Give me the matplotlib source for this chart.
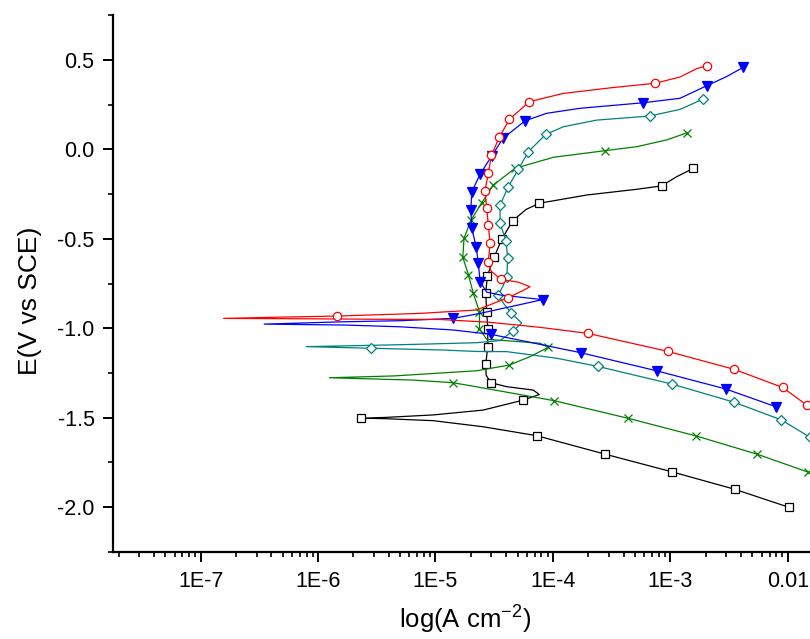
import matplotlib
matplotlib.use("Agg")
import matplotlib.pyplot as plt
from matplotlib.ticker import FixedLocator, FixedFormatter, LogLocator, MultipleLocator, NullFormatter

plt.rcParams['font.family'] = ['Liberation Sans', 'DejaVu Sans']
plt.rcParams['mathtext.fontset'] = 'custom'
plt.rcParams['mathtext.rm'] = 'Liberation Sans'
plt.rcParams['mathtext.it'] = 'Liberation Sans:italic'
plt.rcParams['axes.unicode_minus'] = False

# Potentiodynamic polarization curves: |i| (A cm^-2) versus E (V vs SCE)
# Each sweep runs from the cathodic end, through Ecorr (the dip), to the anodic end.

red_i = [1.46e-2, 9.04e-3, 3.50e-3, 9.48e-4, 1.99e-4, 7.76e-5, 2.92e-5, 1.09e-5, 3.37e-6,
         7.03e-7, 1.57e-7, 4.76e-7, 1.45e-6, 7.40e-6, 2.24e-5, 4.17e-5, 5.46e-5, 6.38e-5,
         5.05e-5, 3.61e-5, 2.97e-5, 2.82e-5, 2.92e-5, 2.82e-5, 2.73e-5, 2.64e-5, 2.82e-5,
         3.00e-5, 3.50e-5, 4.26e-5, 6.30e-5, 1.22e-4, 3.24e-4, 7.40e-4, 1.21e-3, 1.68e-3,
         2.04e-3]
red_E = [-1.431, -1.331, -1.230, -1.129, -1.029, -0.995, -0.967, -0.951, -0.950,
         -0.947, -0.945, -0.938, -0.932, -0.917, -0.898, -0.829, -0.792, -0.768,
         -0.742, -0.727, -0.680, -0.628, -0.525, -0.423, -0.329, -0.231, -0.134,
         -0.031, 0.068, 0.168, 0.267, 0.313, 0.346, 0.370, 0.405, 0.452,
         0.468]
red_marks = [0, 1, 2, 3, 4, 12, 15, 19, 21, 22, 23, 24, 25, 26, 27, 28, 29, 30, 33, 36]

blue_i = [7.93e-3, 2.97e-3, 7.64e-4, 1.73e-4, 2.96e-5, 2.24e-5, 1.42e-5, 5.00e-6, 1.64e-6,
          3.48e-7, 1.64e-6, 5.00e-6, 1.42e-5, 2.40e-5, 8.18e-5, 3.55e-5, 2.73e-5, 2.40e-5,
          2.32e-5, 2.22e-5, 2.04e-5, 2.00e-5, 2.04e-5, 2.40e-5, 3.01e-5, 3.76e-5, 5.79e-5,
          8.85e-5, 1.70e-4, 5.87e-4, 1.21e-3, 2.04e-3, 3.01e-3, 4.18e-3]
blue_E = [-1.439, -1.340, -1.238, -1.137, -1.034, -1.025, -1.010, -0.992, -0.982,
          -0.977, -0.964, -0.958, -0.945, -0.917, -0.840, -0.814, -0.798, -0.740,
          -0.637, -0.544, -0.441, -0.339, -0.237, -0.138, -0.037, 0.062, 0.160,
          0.202, 0.230, 0.261, 0.286, 0.356, 0.407, 0.459]
blue_marks = [0, 1, 2, 3, 4, 12, 14, 17, 18, 19, 20, 21, 22, 23, 24, 25, 26, 29, 31, 33]

teal_i = [1.55e-2, 8.85e-3, 3.50e-3, 1.03e-3, 2.43e-4, 1.08e-4, 4.05e-5, 2.24e-5, 1.17e-5,
          2.83e-6, 7.93e-7, 2.28e-6, 6.93e-6, 2.24e-5, 3.55e-5, 4.60e-5, 5.42e-5, 4.40e-5,
          3.84e-5, 3.43e-5, 3.76e-5, 4.05e-5, 4.12e-5, 3.99e-5, 3.55e-5, 3.55e-5, 4.17e-5,
          5.08e-5, 6.18e-5, 8.69e-5, 1.23e-4, 2.36e-4, 6.70e-4, 1.21e-3, 1.91e-3]
teal_E = [-1.610, -1.513, -1.414, -1.312, -1.214, -1.168, -1.131, -1.130, -1.122,
          -1.112, -1.103, -1.097, -1.090, -1.081, -1.069, -1.014, -0.971, -0.913,
          -0.865, -0.814, -0.764, -0.712, -0.609, -0.511, -0.413, -0.311, -0.209,
          -0.111, -0.013, 0.084, 0.127, 0.164, 0.187, 0.224, 0.282]
teal_marks = [0, 1, 2, 3, 4, 9, 15, 17, 19, 21, 22, 23, 24, 25, 26, 27, 28, 29, 32, 34]

green_i = [1.48e-2, 5.46e-3, 1.67e-3, 4.39e-4, 1.02e-4, 3.55e-5, 1.42e-5, 6.44e-6, 1.25e-6,
           4.39e-6, 2.24e-5, 4.26e-5, 6.38e-5, 9.14e-5, 7.76e-5, 4.05e-5, 2.73e-5, 2.37e-5,
           2.37e-5, 2.10e-5, 1.91e-5, 1.71e-5, 1.75e-5, 2.01e-5, 2.48e-5, 3.11e-5, 4.75e-5,
           1.01e-4, 2.77e-4, 5.16e-4, 9.29e-4, 1.39e-3]
green_E = [-1.804, -1.704, -1.603, -1.504, -1.405, -1.351, -1.305, -1.290, -1.277,
           -1.267, -1.238, -1.206, -1.159, -1.107, -1.084, -1.070, -1.062, -1.004,
           -0.908, -0.805, -0.702, -0.603, -0.497, -0.395, -0.298, -0.199, -0.106,
           -0.044, -0.007, 0.015, 0.053, 0.093]
green_marks = [0, 1, 2, 3, 4, 6, 11, 13, 17, 18, 19, 20, 21, 22, 23, 24, 25, 26, 28, 31]

black_i = [1.03e-2, 3.55e-3, 1.03e-3, 2.77e-4, 7.28e-5, 2.54e-5, 9.55e-6, 3.72e-6, 2.33e-6,
           3.72e-6, 9.55e-6, 2.54e-5, 5.60e-5, 7.66e-5, 6.81e-5, 4.05e-5, 2.96e-5, 2.70e-5,
           2.68e-5, 2.79e-5, 2.79e-5, 2.73e-5, 2.68e-5, 2.77e-5, 3.16e-5, 3.66e-5, 4.55e-5,
           5.90e-5, 7.66e-5, 1.94e-4, 5.16e-4, 8.43e-4, 1.13e-3, 1.57e-3]
black_E = [-2.002, -1.901, -1.803, -1.704, -1.601, -1.551, -1.517, -1.506, -1.503,
           -1.499, -1.485, -1.458, -1.402, -1.371, -1.346, -1.327, -1.305, -1.262,
           -1.200, -1.103, -1.004, -0.908, -0.805, -0.706, -0.603, -0.503, -0.399,
           -0.336, -0.301, -0.255, -0.223, -0.204, -0.153, -0.106]
black_marks = [0, 1, 2, 3, 4, 8, 12, 16, 18, 19, 20, 21, 22, 23, 24, 25, 26, 28, 31, 33]

xtick_values = [1e-7, 1e-6, 1e-5, 1e-4, 1e-3, 1e-2]
xtick_labels = ['1E-7', '1E-6', '1E-5', '1E-4', '1E-3', '0.01']
ytick_values = [-2.0, -1.5, -1.0, -0.5, 0.0, 0.5]

series = [
    (black_i, black_E, black_marks, '#000000', 's', 5.5, 'white'),
    (green_i, green_E, green_marks, '#008000', 'x', 6.0, 'none'),
    (teal_i, teal_E, teal_marks, '#008080', 'D', 5.0, 'white'),
    (blue_i, blue_E, blue_marks, '#0000FF', 'v', 7.0, '#0000FF'),
    (red_i, red_E, red_marks, '#FF0000', 'o', 6.0, 'white'),
]

fig = plt.figure(figsize=(8.1, 6.39), dpi=100)
ax = fig.add_axes([0.139, 0.1366, 0.861, 0.8394])

for cur, pot, marks, col, mk, ms, fc in series:
    ax.plot(cur, pot, color=col, lw=0.9, marker=mk, markevery=marks, ms=ms,
            mfc=fc, mec=col, mew=0.9)

ax.set_xscale('log')
ax.set_xlim(10 ** -7.75, 10 ** -1.81)
ax.set_ylim(-2.25, 0.75)

ax.xaxis.set_major_locator(FixedLocator(xtick_values))
ax.xaxis.set_major_formatter(FixedFormatter(xtick_labels))
ax.xaxis.set_minor_locator(LogLocator(base=10, subs=range(2, 10), numticks=20))
ax.xaxis.set_minor_formatter(NullFormatter())
ax.yaxis.set_major_locator(FixedLocator(ytick_values))
ax.yaxis.set_major_formatter(FixedFormatter([f'{v:.1f}' for v in ytick_values]))
ax.yaxis.set_minor_locator(MultipleLocator(0.25))

for side in ('top', 'right'):
    ax.spines[side].set_visible(False)
for side in ('left', 'bottom'):
    ax.spines[side].set_linewidth(1.6)

ax.tick_params(which='major', direction='out', length=7, width=1.4, labelsize=15.5, pad=6)
ax.tick_params(which='minor', direction='out', length=3.5, width=1.2)
ax.tick_params(axis='x', which='major', pad=7)

ax.set_xlabel(r'log(A cm$^{-2}$)', fontsize=18.5)
ax.set_ylabel('E(V vs SCE)', fontsize=19)
ax.xaxis.set_label_coords(0.505, -0.097)
ax.yaxis.set_label_coords(-0.101, 0.467)

fig.savefig('out.png', dpi=100)
